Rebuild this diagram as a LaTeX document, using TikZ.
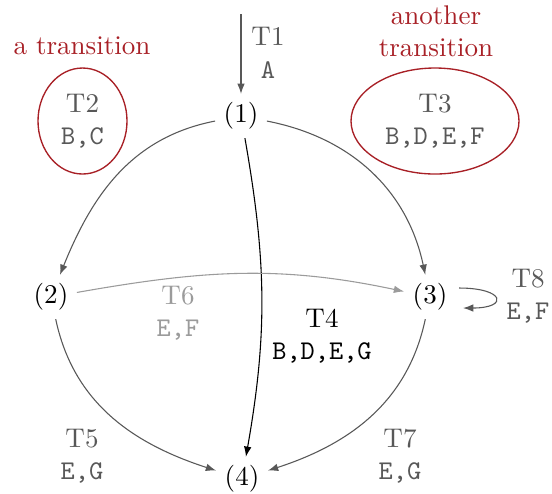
\documentclass[tikz,border=0pt]{standalone}
\usetikzlibrary{arrows.meta,shapes.geometric,calc}
\definecolor{tred}{RGB}{168,32,38}
\definecolor{tgray}{RGB}{88,88,88}
\definecolor{tlight}{RGB}{155,155,155}
\begin{document}
\begin{tikzpicture}[x=0.37pt,y=-0.37pt,
  state/.style={inner sep=3pt},
  lab/.style={align=center,text=tgray},
  edge/.style={draw=tgray,-{Latex[length=3.8pt,width=2.8pt]}},
  ring/.style={ellipse,draw=tred,line width=0.5pt,inner sep=0pt}]
\useasboundingbox (0,0) rectangle (552,493);
\node[state] (n1) at (241,116) {(1)};
\node[state] (n2) at (51,297) {(2)};
\node[state] (n3) at (430,297) {(3)};
\node[state] (n4) at (242,479) {(4)};
\coordinate (top) at (241,14);
\coordinate (ls) at ($(n3.center)+(29,-9)$);
\coordinate (le) at ($(n3.center)+(33,11)$);
% labels
\node[lab] (t1) at (268,53) {T1\\\texttt{A}};
\node[ring,lab,minimum width=89*0.37pt,minimum height=106*0.37pt] (t2) at (82.5,121) {T2\\\texttt{B,C}};
\node[ring,lab,minimum width=168*0.37pt,minimum height=106*0.37pt] (t3) at (435,121) {T3\\\texttt{B,D,E,F}};
\node[text=tred] (c2) at (82,46) {a transition};
\node[text=tred,align=center] (c3) at (436,31) {another\\transition};
\node[align=center] (t4) at (322,336) {T4\\\texttt{B,D,E,G}};
\node[align=center,text=tlight] (t6) at (178,313) {T6\\\texttt{E,F}};
\node[lab] (t5) at (82,456) {T5\\\texttt{E,G}};
\node[lab] (t7) at (400,456) {T7\\\texttt{E,G}};
\node[lab] (t8) at (528,296) {T8\\\texttt{E,F}};
% edges
\draw[edge] (top) -- (n1);
\draw[edge] (n1) to[out=191,in=68] (n2);
\draw[edge] (n1) to[out=-11,in=102] (n3);
\draw[edge,draw=black] (n1) to[out=-80,in=80] (n4);
\draw[edge,draw=tlight] (n2) to[out=10,in=168] (n3);
\draw[edge] (n2) to[out=-78,in=162] (n4);
\draw[edge] (n3) to[out=-102,in=18] (n4);
\draw[edge] (ls) .. controls +(46,0) and +(46,0) .. (le);
\end{tikzpicture}
\end{document}
